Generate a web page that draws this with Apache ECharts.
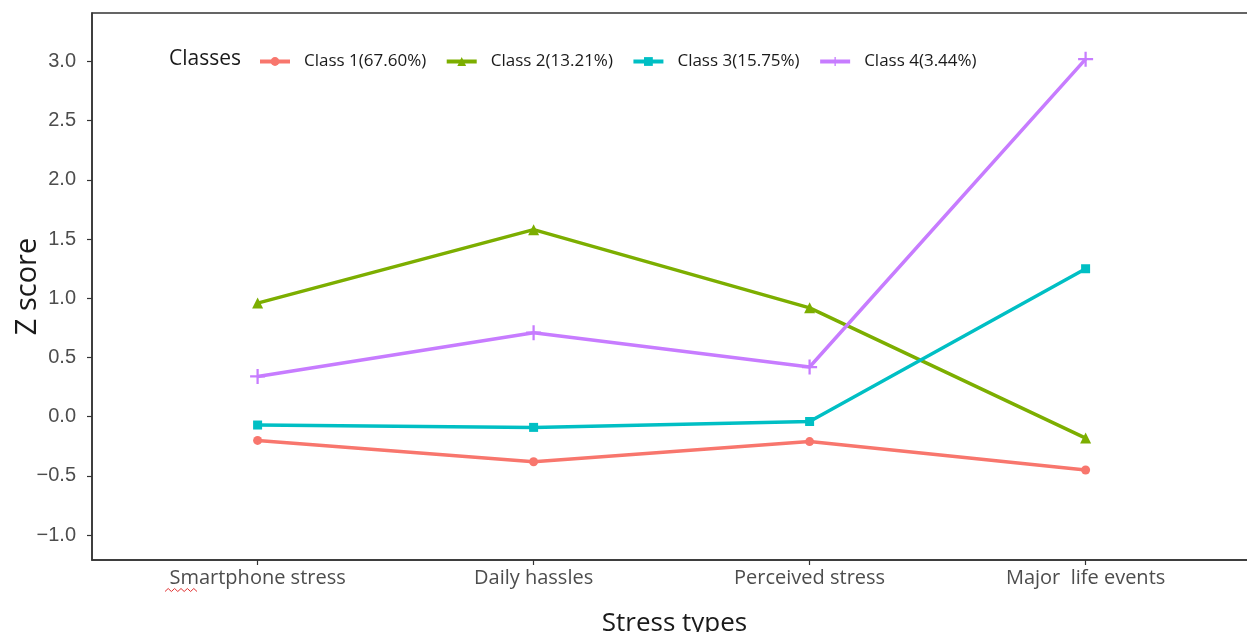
<!DOCTYPE html>
<html>
<head>
<meta charset="utf-8">
<script src="https://cdn.jsdelivr.net/npm/echarts@6/dist/echarts.min.js"></script>
<style>
html,body{margin:0;padding:0;background:#fff;}
#chart{width:1247px;height:632px;}
</style>
</head>
<body>
<div id="chart"></div>
<script>
const categories = ['Smartphone stress', 'Daily hassles', 'Perceived stress', 'Major  life events'];
const seriesNames = ['Class 1(67.60%)', 'Class 2(13.21%)', 'Class 3(15.75%)', 'Class 4(3.44%)'];
const class1 = [-0.20, -0.38, -0.21, -0.45];
const class2 = [0.96, 1.58, 0.92, -0.18];
const class3 = [-0.07, -0.09, -0.04, 1.25];
const class4 = [0.34, 0.71, 0.42, 3.02];
const yTicks = [-1.0, -0.5, 0.0, 0.5, 1.0, 1.5, 2.0, 2.5, 3.0];
const xTicks = [1, 2, 3, 4];

const colors = ['#F8766D', '#7CAE00', '#00BFC4', '#C77CFF'];
const symbols = ['circle', 'triangle', 'rect',
  'path://M5.1,0H6.9V5.1H12V6.9H6.9V12H5.1V6.9H0V5.1H5.1Z'];
const symbolSizes = [9, 11, 9, 15];
const allData = [class1, class2, class3, class4];

const chart = echarts.init(document.getElementById('chart'), null, {renderer: 'canvas'});

const series = allData.map((vals, i) => ({
  name: seriesNames[i],
  type: 'line',
  data: vals.map((v, j) => [xTicks[j], v]),
  symbol: symbols[i],
  symbolSize: symbolSizes[i],
  showAllSymbol: true,
  lineStyle: {width: 3.5, color: colors[i]},
  itemStyle: {color: colors[i]},
  emphasis: {disabled: true},
  animation: false,
  z: 2
}));

// wavy spell-check underline under the first x label (decoration seen in the reference)
const wave = [];
for (let k = 0; k <= 10; k++) wave.push([165 + k * 3.2, 590 + (k % 2 ? -1.5 : 1.5)]);

chart.setOption({
  animation: false,
  title: {
    text: 'Classes',
    left: 164, top: 44,
    textStyle: {fontFamily: 'Open Sans', fontSize: 21, fontWeight: 'normal', color: '#1a1a1a'}
  },
  legend: {
    left: 253, top: 48,
    itemWidth: 30, itemHeight: 11,
    itemGap: 18.5,
    data: seriesNames,
    lineStyle: {width: 4},
    textStyle: {fontFamily: 'Open Sans', fontSize: 17, color: '#1a1a1a', padding: [0, 0, 0, 9]}
  },
  grid: {
    left: 92, right: -10, top: 13, bottom: 72,
    show: true, borderColor: '#333', borderWidth: 1.5,
    containLabel: false,
    outerBoundsMode: 'none'
  },
  graphic: [{
    type: 'polyline',
    shape: {points: wave},
    style: {stroke: '#e03030', lineWidth: 1, fill: null},
    silent: true
  }],
  xAxis: {
    type: 'value',
    min: 0.4, max: 4.621,
    name: 'Stress types',
    nameLocation: 'middle',
    nameGap: 51,
    nameMoveOverlap: false,
    nameTextStyle: {fontFamily: 'Open Sans', fontSize: 26, color: '#1a1a1a'},
    axisLine: {show: true, onZero: false, lineStyle: {color: '#333', width: 1.5}},
    axisTick: {show: true, customValues: xTicks, length: 5, lineStyle: {color: '#333', width: 1.2}},
    axisLabel: {
      customValues: xTicks,
      formatter: v => categories[Math.round(v) - 1],
      fontFamily: 'Open Sans', fontSize: 20, color: '#4d4d4d', margin: 8
    },
    splitLine: {show: false}
  },
  yAxis: {
    type: 'value',
    min: -1.21, max: 3.41,
    name: 'Z score',
    nameLocation: 'middle',
    nameGap: 50,
    nameMoveOverlap: false,
    nameTextStyle: {fontFamily: 'Open Sans', fontSize: 29, color: '#1a1a1a'},
    axisLine: {show: true, onZero: false, lineStyle: {color: '#333', width: 1.5}},
    axisTick: {show: true, customValues: yTicks, length: 5, lineStyle: {color: '#333', width: 1.2}},
    axisLabel: {
      customValues: yTicks,
      formatter: v => (v < 0 ? '\u2212' : '') + Math.abs(v).toFixed(1),
      fontFamily: 'Liberation Sans', fontSize: 20, color: '#4d4d4d', margin: 16
    },
    splitLine: {show: false}
  },
  series: series
});
</script>
</body>
</html>
